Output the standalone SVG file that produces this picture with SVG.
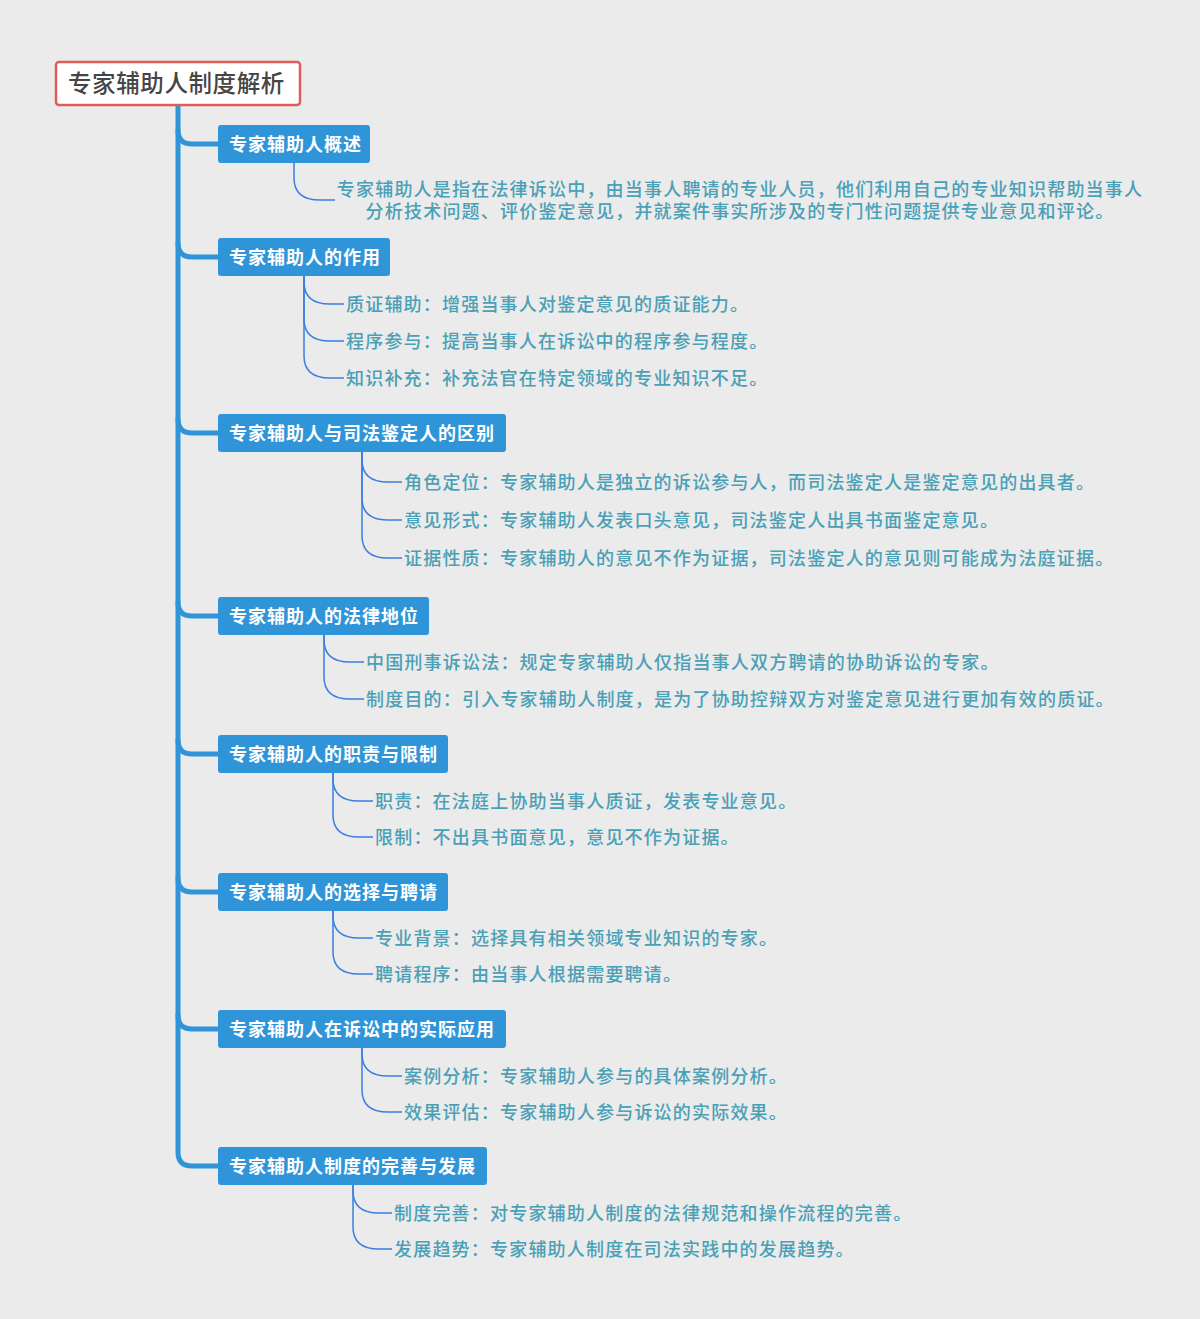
<svg xmlns="http://www.w3.org/2000/svg" width="1200" height="1319" viewBox="0 0 1200 1319">
<style>
.bg{fill:#ebebeb}
.root rect{fill:#ffffff;stroke:#e05c5c;stroke-width:2.5}
.root text{font-family:"Noto Sans CJK SC","Noto Sans",sans-serif;font-size:23.5px;font-weight:500;fill:#454545;letter-spacing:0.6px}
.branch rect{fill:#2f95d8}
.branch text{font-family:"Noto Sans CJK SC","Noto Sans",sans-serif;font-size:18px;font-weight:bold;fill:#ffffff;letter-spacing:1px}
.leaf text{font-family:"Noto Sans CJK SC","Noto Sans",sans-serif;font-size:18px;font-weight:500;fill:#4aa0b6;letter-spacing:1.2px}
.trunk{fill:none;stroke:#2f95d8;stroke-width:5;stroke-linecap:round}
.sub{fill:none;stroke:#3b7fe2;stroke-width:1.5}
</style>
<rect class="bg" x="0" y="0" width="1200" height="1319"/>
<g id="connectors">
<path class="trunk" d="M178,105 L178,1152 Q178,1166 192,1166 L218,1166"/>
<path class="trunk" d="M178,130 Q178,144 192,144 L218,144"/>
<path class="trunk" d="M178,243 Q178,257 192,257 L218,257"/>
<path class="trunk" d="M178,419 Q178,433 192,433 L218,433"/>
<path class="trunk" d="M178,602 Q178,616 192,616 L218,616"/>
<path class="trunk" d="M178,740 Q178,754 192,754 L218,754"/>
<path class="trunk" d="M178,878 Q178,892 192,892 L218,892"/>
<path class="trunk" d="M178,1015 Q178,1029 192,1029 L218,1029"/>
<path class="sub" d="M294,162 L294,178 C294,194 304,200 320,200 L335,200"/>
<path class="sub" d="M304,275 L304,282 C304,298 314,304 330,304 L344,304"/>
<path class="sub" d="M304,275 L304,319 C304,335 314,341 330,341 L344,341"/>
<path class="sub" d="M304,275 L304,356 C304,372 314,378 330,378 L344,378"/>
<path class="sub" d="M362,452 L362,460 C362,476 372,482 388,482 L402,482"/>
<path class="sub" d="M362,452 L362,498 C362,514 372,520 388,520 L402,520"/>
<path class="sub" d="M362,452 L362,536 C362,552 372,558 388,558 L402,558"/>
<path class="sub" d="M324,634 L324,640 C324,656 334,662 350,662 L364,662"/>
<path class="sub" d="M324,634 L324,677 C324,693 334,699 350,699 L364,699"/>
<path class="sub" d="M333,772 L333,779 C333,795 343,801 359,801 L373,801"/>
<path class="sub" d="M333,772 L333,815 C333,831 343,837 359,837 L373,837"/>
<path class="sub" d="M333,910 L333,916 C333,932 343,938 359,938 L373,938"/>
<path class="sub" d="M333,910 L333,952 C333,968 343,974 359,974 L373,974"/>
<path class="sub" d="M362,1048 L362,1054 C362,1070 372,1076 388,1076 L402,1076"/>
<path class="sub" d="M362,1048 L362,1090 C362,1106 372,1112 388,1112 L402,1112"/>
<path class="sub" d="M353,1185 L353,1191 C353,1207 363,1213 379,1213 L392,1213"/>
<path class="sub" d="M353,1185 L353,1227 C353,1243 363,1249 379,1249 L392,1249"/>
</g>
<g id="root" class="root"><rect x="56" y="62" width="244" height="43" rx="3"/><text x="68" y="92">专家辅助人制度解析</text></g>
<g id="b1" class="branch"><rect x="218" y="125" width="152" height="38" rx="3"/><text x="229" y="150.5">专家辅助人概述</text></g>
<g id="b2" class="branch"><rect x="218" y="238" width="172" height="38" rx="3"/><text x="229" y="263.5">专家辅助人的作用</text></g>
<g id="b3" class="branch"><rect x="218" y="414" width="288" height="38" rx="3"/><text x="229" y="439.5">专家辅助人与司法鉴定人的区别</text></g>
<g id="b4" class="branch"><rect x="218" y="597" width="211" height="38" rx="3"/><text x="229" y="622.5">专家辅助人的法律地位</text></g>
<g id="b5" class="branch"><rect x="218" y="735" width="230" height="38" rx="3"/><text x="229" y="760.5">专家辅助人的职责与限制</text></g>
<g id="b6" class="branch"><rect x="218" y="873" width="230" height="38" rx="3"/><text x="229" y="898.5">专家辅助人的选择与聘请</text></g>
<g id="b7" class="branch"><rect x="218" y="1010" width="288" height="38" rx="3"/><text x="229" y="1035.5">专家辅助人在诉讼中的实际应用</text></g>
<g id="b8" class="branch"><rect x="218" y="1147" width="269" height="38" rx="3"/><text x="229" y="1172.5">专家辅助人制度的完善与发展</text></g>
<g id="l1" class="leaf"><text text-anchor="middle"><tspan x="740" y="196">专家辅助人是指在法律诉讼中，由当事人聘请的专业人员，他们利用自己的专业知识帮助当事人</tspan><tspan x="740" y="218">分析技术问题、评价鉴定意见，并就案件事实所涉及的专门性问题提供专业意见和评论。</tspan></text></g>
<g id="l2a" class="leaf"><text x="346" y="310.5">质证辅助：增强当事人对鉴定意见的质证能力。</text></g>
<g id="l2b" class="leaf"><text x="346" y="347.5">程序参与：提高当事人在诉讼中的程序参与程度。</text></g>
<g id="l2c" class="leaf"><text x="346" y="384.5">知识补充：补充法官在特定领域的专业知识不足。</text></g>
<g id="l3a" class="leaf"><text x="404" y="488.5">角色定位：专家辅助人是独立的诉讼参与人，而司法鉴定人是鉴定意见的出具者。</text></g>
<g id="l3b" class="leaf"><text x="404" y="526.5">意见形式：专家辅助人发表口头意见，司法鉴定人出具书面鉴定意见。</text></g>
<g id="l3c" class="leaf"><text x="404" y="564.5">证据性质：专家辅助人的意见不作为证据，司法鉴定人的意见则可能成为法庭证据。</text></g>
<g id="l4a" class="leaf"><text x="366" y="668.5">中国刑事诉讼法：规定专家辅助人仅指当事人双方聘请的协助诉讼的专家。</text></g>
<g id="l4b" class="leaf"><text x="366" y="705.5">制度目的：引入专家辅助人制度，是为了协助控辩双方对鉴定意见进行更加有效的质证。</text></g>
<g id="l5a" class="leaf"><text x="375" y="807.5">职责：在法庭上协助当事人质证，发表专业意见。</text></g>
<g id="l5b" class="leaf"><text x="375" y="843.5">限制：不出具书面意见，意见不作为证据。</text></g>
<g id="l6a" class="leaf"><text x="375" y="944.5">专业背景：选择具有相关领域专业知识的专家。</text></g>
<g id="l6b" class="leaf"><text x="375" y="980.5">聘请程序：由当事人根据需要聘请。</text></g>
<g id="l7a" class="leaf"><text x="404" y="1082.5">案例分析：专家辅助人参与的具体案例分析。</text></g>
<g id="l7b" class="leaf"><text x="404" y="1118.5">效果评估：专家辅助人参与诉讼的实际效果。</text></g>
<g id="l8a" class="leaf"><text x="394" y="1219.5">制度完善：对专家辅助人制度的法律规范和操作流程的完善。</text></g>
<g id="l8b" class="leaf"><text x="394" y="1255.5">发展趋势：专家辅助人制度在司法实践中的发展趋势。</text></g>
</svg>
